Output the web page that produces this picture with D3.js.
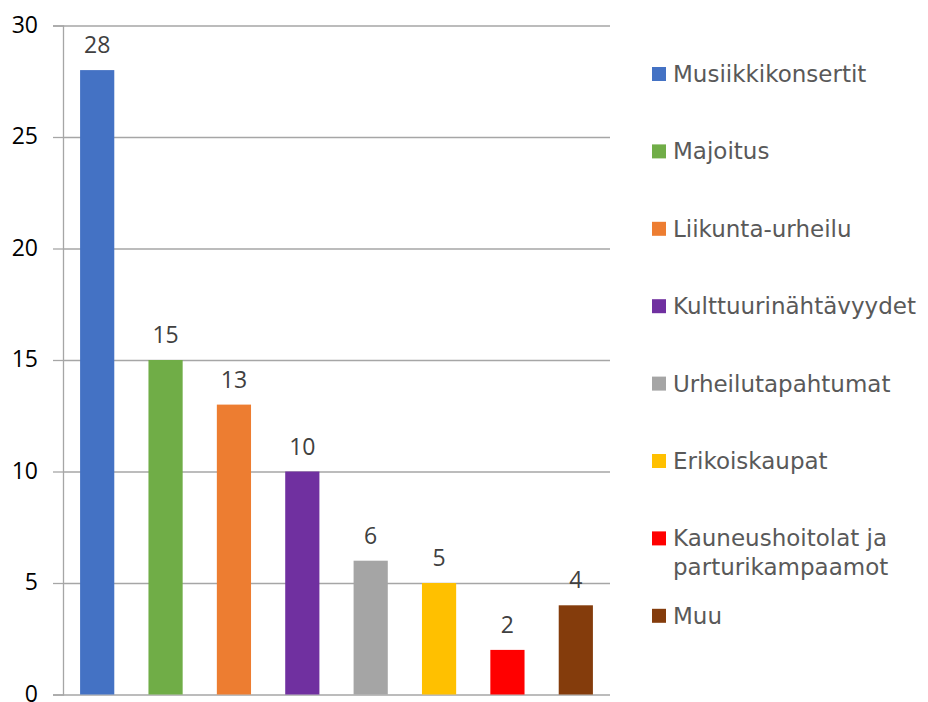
<!DOCTYPE html>
<html>
<head>
<meta charset="utf-8">
<script src="https://cdn.jsdelivr.net/npm/d3@7"></script>
<style>
  body { margin: 0; background: #fff; }
</style>
</head>
<body>
<svg id="chart" width="928" height="702"></svg>
<script>
const categories = ["Musiikkikonsertit", "Majoitus", "Liikunta-urheilu", "Kulttuurinähtävyydet",
  "Urheilutapahtumat", "Erikoiskaupat", "Kauneushoitolat ja parturikampaamot", "Muu"];
const values = [28, 15, 13, 10, 6, 5, 2, 4];
const legendLines = [["Musiikkikonsertit"], ["Majoitus"], ["Liikunta-urheilu"], ["Kulttuurinähtävyydet"],
  ["Urheilutapahtumat"], ["Erikoiskaupat"], ["Kauneushoitolat ja", "parturikampaamot"], ["Muu"]];
const colors = ["#4472C4", "#70AD47", "#ED7D31", "#7030A0", "#A5A5A5", "#FFC000", "#FF0000", "#843C0C"];
const yTicks = [0, 5, 10, 15, 20, 25, 30];

const svg = d3.select("#chart");
const plotLeft = 63, plotRight = 610, plotTop = 25.5, plotBottom = 694.5;

const x = d3.scaleBand().domain(categories).range([plotLeft, plotRight]).paddingInner(0.5).paddingOuter(0.25);
const y = d3.scaleLinear().domain([0, 30]).range([plotBottom, plotTop]);

// gridlines
svg.append("g")
  .attr("transform", `translate(${plotLeft},0)`)
  .call(d3.axisLeft(y).tickValues(yTicks).tickSize(-(plotRight - plotLeft)).tickFormat(""))
  .call(g => g.select(".domain").remove())
  .call(g => g.selectAll("line").attr("stroke", "#A6A6A6").attr("stroke-width", 1.3));

// y axis
svg.append("g")
  .attr("transform", `translate(${plotLeft},0)`)
  .call(d3.axisLeft(y).tickValues(yTicks).tickSize(10).tickPadding(15))
  .call(g => g.select(".domain").attr("stroke", "#A6A6A6").attr("stroke-width", 1.3))
  .call(g => g.selectAll("line").attr("stroke", "#A6A6A6").attr("stroke-width", 1.3))
  .call(g => g.selectAll("text")
    .attr("font-family", "'Open Sans', sans-serif")
    .attr("font-size", 23)
    .attr("dy", "0.3em")
    .attr("fill", "#000"));

// bars
svg.append("g").selectAll("rect")
  .data(values)
  .join("rect")
  .attr("x", (d, i) => x(categories[i]))
  .attr("y", d => y(d))
  .attr("width", x.bandwidth())
  .attr("height", d => y(0) - y(d))
  .attr("fill", (d, i) => colors[i]);

// value labels
svg.append("g").selectAll("text")
  .data(values)
  .join("text")
  .attr("x", (d, i) => x(categories[i]) + x.bandwidth() / 2)
  .attr("y", d => y(d) - 17)
  .attr("text-anchor", "middle")
  .attr("font-family", "'Open Sans', sans-serif")
  .attr("font-size", 23)
  .attr("fill", "#404040")
  .text(d => d);

// legend
const legend = svg.append("g");
const item = legend.selectAll("g")
  .data(legendLines)
  .join("g")
  .attr("transform", (d, i) => `translate(652, ${74 + 77.4 * i})`);

item.append("rect")
  .attr("x", 0)
  .attr("y", -7)
  .attr("width", 14)
  .attr("height", 14)
  .attr("fill", (d, i) => colors[i]);

item.append("text")
  .attr("x", 21)
  .attr("font-family", "'DejaVu Sans', sans-serif")
  .attr("font-size", 23)
  .attr("fill", "#595959")
  .selectAll("tspan")
  .data(d => d.map((t, j) => ({t, j})))
  .join("tspan")
  .attr("x", 21)
  .attr("y", d => 8 + d.j * 29)
  .text(d => d.t);
</script>
</body>
</html>
